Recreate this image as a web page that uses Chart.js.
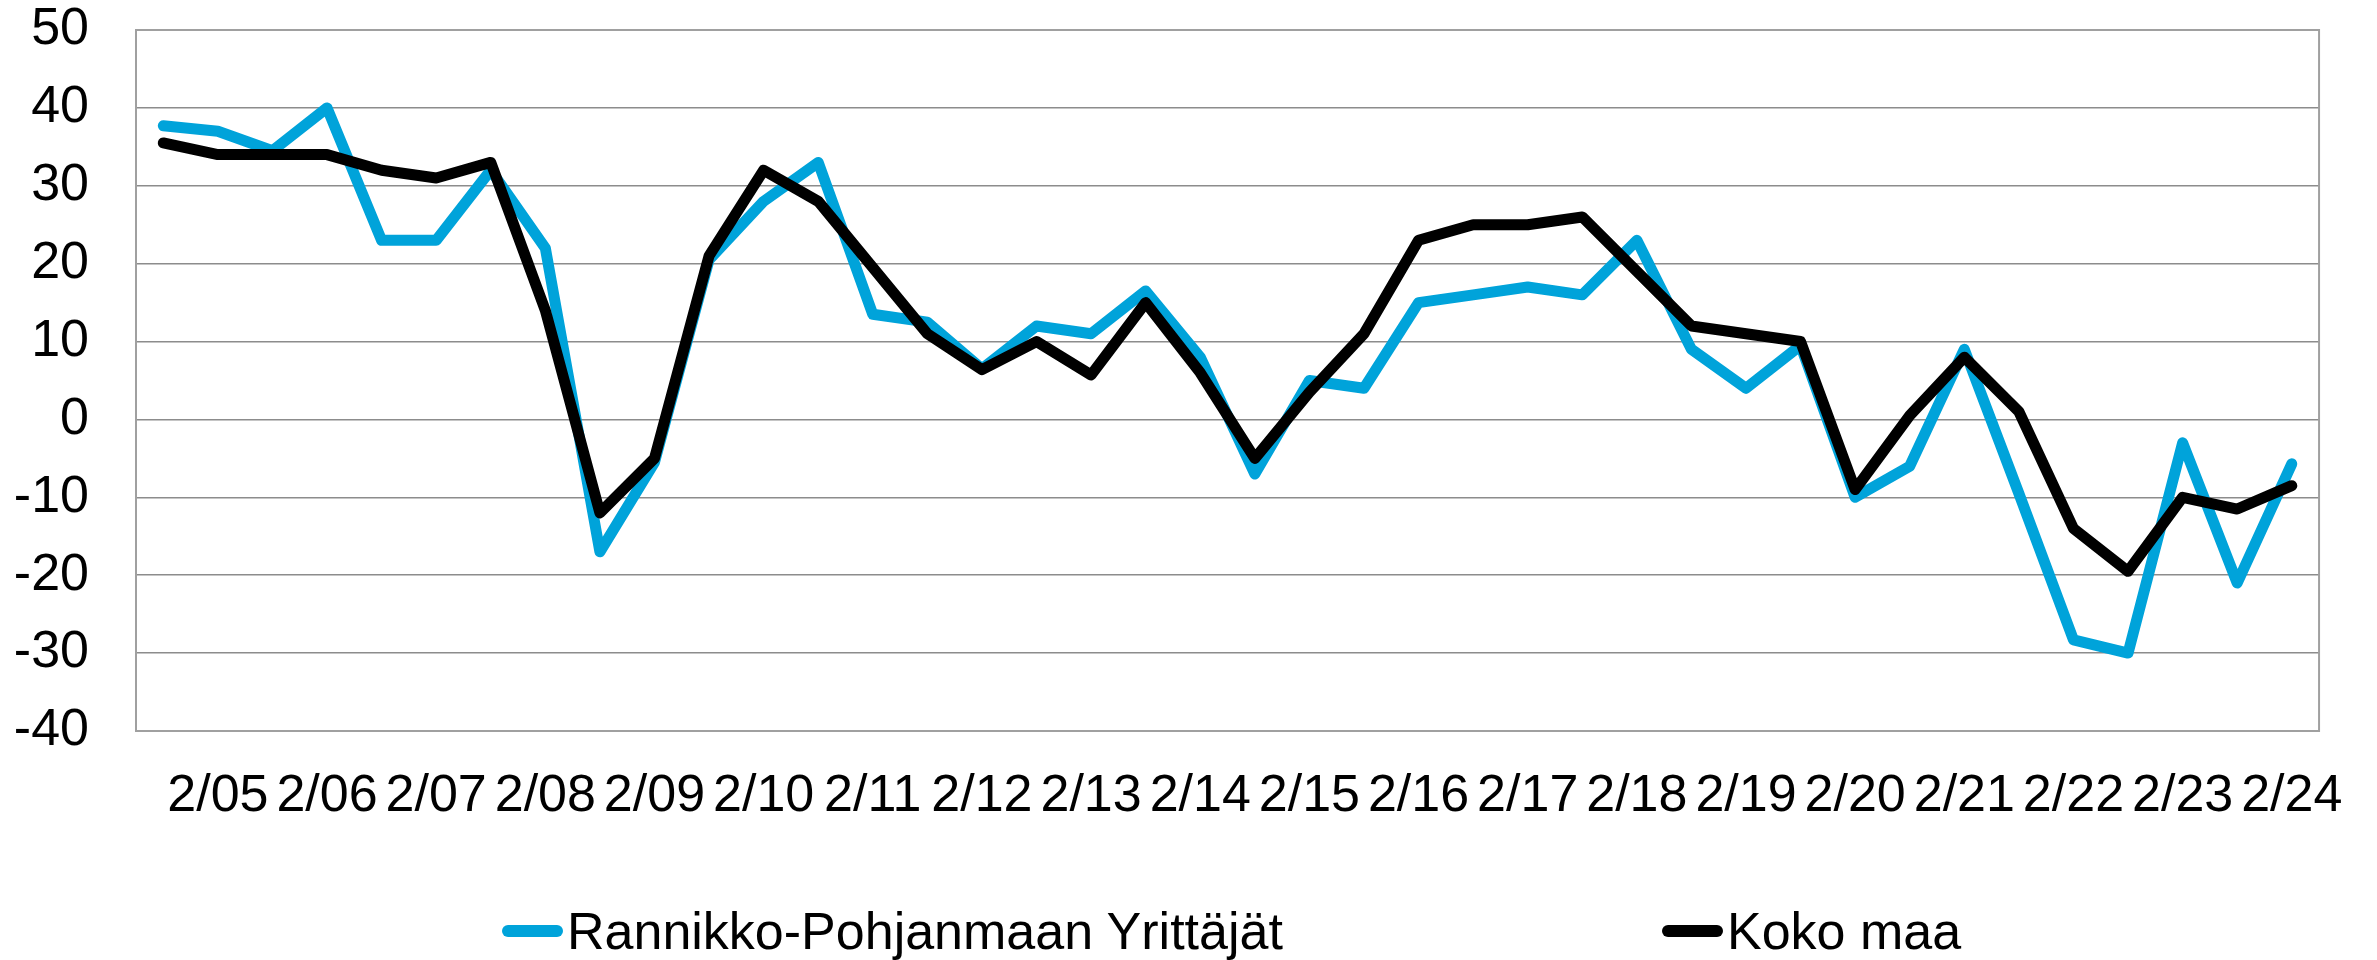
<!DOCTYPE html>
<html>
<head>
<meta charset="utf-8">
<script src="https://cdn.jsdelivr.net/npm/chart.js@4.4.1/dist/chart.umd.min.js"></script>
<style>
  html, body { margin: 0; padding: 0; background: #fff; }
  #wrap { position: relative; width: 2377px; height: 960px; }
  #c { position: absolute; left: 0; top: 0; }
  .leg { position: absolute; top: 905px; height: 52px; display: flex; align-items: center;
         font-family: "Liberation Sans", Arial, sans-serif; font-size: 52px; line-height: 52px; color: #000; white-space: nowrap; }
  .sw { display: inline-block; width: 61px; height: 12px; border-radius: 6px; margin-right: 4px; }
</style>
</head>
<body>
<div id="wrap">
  <canvas id="c" width="2377" height="960"></canvas>
  <div class="leg" id="leg0" style="left:502px;"><span class="sw" id="sw0"></span><span id="lt0"></span></div>
  <div class="leg" id="leg1" style="left:1662px;"><span class="sw" id="sw1"></span><span id="lt1"></span></div>
</div>
<script>
const categories = ['8/04','2/05','8/05','2/06','8/06','2/07','8/07','2/08','8/08','2/09',
  '8/09','2/10','8/10','2/11','8/11','2/12','8/12','2/13','8/13','2/14',
  '8/14','2/15','8/15','2/16','8/16','2/17','8/17','2/18','8/18','2/19',
  '8/19','2/20','8/20','2/21','8/21','2/22','8/22','2/23','8/23','2/24'];

const tickLabels = ['2/05','2/06','2/07','2/08','2/09','2/10','2/11','2/12','2/13','2/14',
  '2/15','2/16','2/17','2/18','2/19','2/20','2/21','2/22','2/23','2/24'];

const seriesNames = ['Rannikko-Pohjanmaan Yrittäjät', 'Koko maa'];

const rannikkoValues = [37.7, 37, 34.5, 40, 23, 23, 32, 22, -17, -5.5,
  20.5, 28, 33, 13.5, 12.5, 6.5, 12, 11, 16.5, 8,
  -7, 5, 4, 15, 16, 17, 16, 23, 9, 4,
  9.5, -10, -6, 9, -9.5, -28.3, -30, -3, -21, -5.7];

const kokoMaaValues = [35.5, 34, 34, 34, 32, 31, 33, 14, -12, -5,
  21, 32, 28, 19.5, 11, 6.4, 10, 5.7, 15, 6,
  -5, 3.5, 11, 23, 25, 25, 26, 19, 12, 11,
  10, -9, 0.5, 8, 1, -14, -19.5, -10, -11.5, -8.5];

const yMin = -40, yMax = 50, yStep = 10;

const colors = ['#00a3da', '#000000'];

const FONT = '"Liberation Sans", Arial, sans-serif';

const frame = {
  id: 'frame',
  beforeDatasetsDraw(chart) {
    const a = chart.chartArea, ctx = chart.ctx;
    ctx.save();
    ctx.strokeStyle = '#a0a0a0';
    ctx.lineWidth = 2;
    ctx.strokeRect(a.left, a.top, a.right - a.left, a.bottom - a.top);
    ctx.restore();
  }
};

const chart = new Chart(document.getElementById('c'), {
  type: 'line',
  data: {
    labels: categories,
    datasets: [
      { label: seriesNames[0], data: rannikkoValues, borderColor: colors[0], backgroundColor: colors[0],
        borderWidth: 11, pointRadius: 0, tension: 0, borderJoinStyle: 'round', borderCapStyle: 'round', order: 1 },
      { label: seriesNames[1], data: kokoMaaValues, borderColor: colors[1], backgroundColor: colors[1],
        borderWidth: 11, pointRadius: 0, tension: 0, borderJoinStyle: 'round', borderCapStyle: 'round', order: 0 }
    ]
  },
  options: {
    responsive: false,
    animation: false,
    layout: { padding: { left: 16, right: 50, top: 30, bottom: 132 } },
    plugins: { legend: { display: false }, tooltip: { enabled: false } },
    scales: {
      x: {
        offset: true,
        grid: { display: false, drawTicks: false },
        border: { display: false },
        ticks: {
          autoSkip: false, maxRotation: 0, minRotation: 0, padding: 34,
          color: '#000', font: { family: FONT, size: 52 },
          callback: function(v, i) { const l = categories[i]; return tickLabels.includes(l) ? l : ''; }
        },
        afterFit(scale) { scale.height = 97; }
      },
      y: {
        min: yMin, max: yMax,
        grid: { color: '#8c8c8c', lineWidth: 1.5, drawTicks: false },
        border: { display: false },
        ticks: { stepSize: yStep, padding: 47, color: '#000', font: { family: FONT, size: 52 } },
        afterFit(scale) { scale.width = 120; scale.paddingTop = 0; scale.paddingBottom = 0; }
      }
    }
  },
  plugins: [frame]
});

for (let i = 0; i < 2; i++) {
  document.getElementById('sw' + i).style.background = colors[i];
  document.getElementById('lt' + i).textContent = seriesNames[i];
}
</script>
</body>
</html>
